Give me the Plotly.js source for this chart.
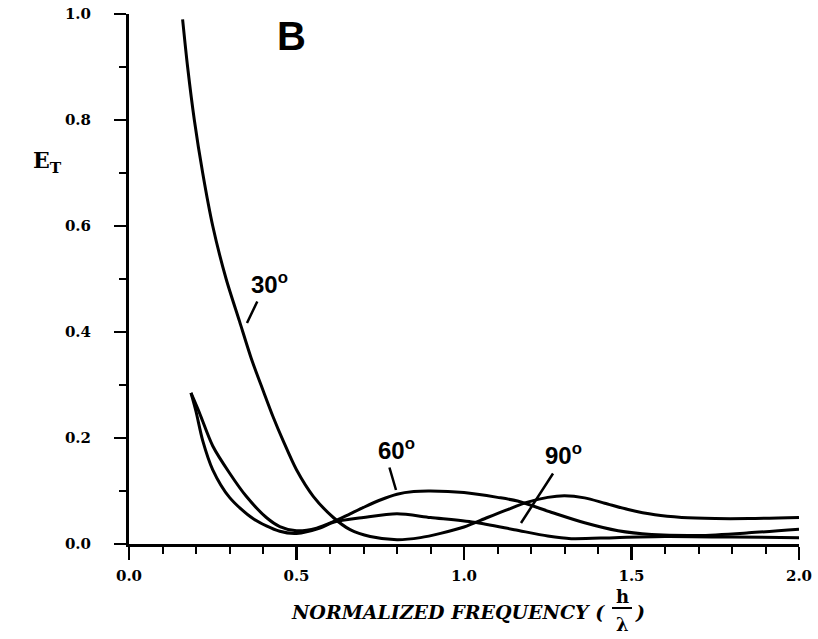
<!DOCTYPE html>
<html>
<head>
<meta charset="utf-8">
<script src="https://cdn.plot.ly/plotly-3.0.1.min.js"></script>
<style>html,body{margin:0;padding:0;background:#fff;}#chart{width:818px;height:639px;}</style>
</head>
<body>
<div id="chart"></div>
<script>
// ---- data ----
const x30 = [0.16, 0.175, 0.195, 0.22, 0.25, 0.29, 0.33, 0.365, 0.40, 0.43, 0.46, 0.50, 0.55, 0.61, 0.66, 0.72, 0.80, 0.87, 0.93, 1.00, 1.07, 1.13, 1.19, 1.25, 1.30, 1.36, 1.42, 1.49, 1.57, 1.65, 1.75, 1.85, 2.00];
const y30 = [0.99, 0.90, 0.80, 0.70, 0.60, 0.50, 0.42, 0.35, 0.29, 0.24, 0.195, 0.14, 0.09, 0.05, 0.027, 0.014, 0.008, 0.012, 0.02, 0.032, 0.05, 0.065, 0.079, 0.088, 0.091, 0.087, 0.077, 0.065, 0.055, 0.05, 0.048, 0.048, 0.05];

const x60 = [0.185, 0.21, 0.25, 0.30, 0.35, 0.41, 0.45, 0.50, 0.56, 0.61, 0.66, 0.70, 0.75, 0.80, 0.85, 0.90, 1.00, 1.10, 1.16, 1.26, 1.36, 1.46, 1.56, 1.70, 1.85, 2.00];
const y60 = [0.285, 0.248, 0.185, 0.134, 0.09, 0.05, 0.033, 0.025, 0.03, 0.042, 0.057, 0.069, 0.083, 0.094, 0.099, 0.10, 0.097, 0.088, 0.081, 0.06, 0.04, 0.025, 0.018, 0.016, 0.021, 0.028];

const x90 = [0.185, 0.20, 0.22, 0.25, 0.30, 0.37, 0.45, 0.50, 0.57, 0.61, 0.70, 0.80, 0.90, 1.03, 1.15, 1.25, 1.32, 1.45, 1.60, 1.80, 2.00];
const y90 = [0.285, 0.25, 0.195, 0.14, 0.088, 0.048, 0.024, 0.02, 0.03, 0.041, 0.05, 0.057, 0.05, 0.041, 0.027, 0.015, 0.01, 0.012, 0.014, 0.013, 0.012];

const curveNames = ["30°", "60°", "90°"];
const xTickVals = [0, 0.5, 1.0, 1.5, 2.0];
const xTickText = ["0.0", "0.5", "1.0", "1.5", "2.0"];
const yTickVals = [0, 0.2, 0.4, 0.6, 0.8, 1.0];
const yTickText = ["0.0", "0.2", "0.4", "0.6", "0.8", "1.0"];

// ---- layout geometry ----
const W = 818, H = 639;
const M = {l: 129, r: 19, t: 14, b: 95};
const PW = W - M.l - M.r, PH = H - M.t - M.b;
const px = v => (v - M.l) / PW;            // page pixel x -> paper
const py = v => (H - M.b - v) / PH;        // page pixel y -> paper

const lineStyle = {color: '#000', width: 3, shape: 'spline', smoothing: 0.8};
const traces = [
  {x: x30, y: y30, name: curveNames[0], mode: 'lines', line: lineStyle},
  {x: x60, y: y60, name: curveNames[1], mode: 'lines', line: lineStyle},
  {x: x90, y: y90, name: curveNames[2], mode: 'lines', line: lineStyle}
];

const b = s => '<b>' + s + '</b>';
const tickFont = {family: 'DejaVu Serif', size: 15, color: '#000', weight: 700};
const labFont = {family: 'Liberation Sans, Arial', size: 24, color: '#000', weight: 700};
const titleFont = {family: 'DejaVu Serif', size: 19, color: '#000', weight: 700, style: 'italic'};
const fracFont = {family: 'DejaVu Serif', size: 18, color: '#000', weight: 700};

function ann(text, x, y, font, xanchor) {
  return {text: b(text), xref: 'paper', yref: 'paper', x: px(x), y: py(y), showarrow: false,
          font: font, xanchor: xanchor || 'center', yanchor: 'middle'};
}
function leader(xFrom, yFrom, xTo, yTo) {
  return {text: '', xref: 'paper', yref: 'paper', x: px(xTo), y: py(yTo),
          axref: 'pixel', ayref: 'pixel', ax: xFrom - xTo, ay: yFrom - yTo,
          showarrow: true, arrowhead: 0, arrowwidth: 2.5, arrowcolor: '#000', standoff: 0, startstandoff: 0};
}

const layout = {
  width: W, height: H,
  margin: M,
  paper_bgcolor: '#fff', plot_bgcolor: '#fff',
  showlegend: false,
  xaxis: {
    range: [0, 2], showgrid: false, zeroline: false,
    showline: true, linecolor: '#000', linewidth: 3,
    ticks: 'outside', ticklen: 13, tickwidth: 2.5, tickcolor: '#000',
    tickvals: xTickVals, ticktext: xTickText.map(b), tickfont: tickFont, ticklabelstandoff: 3,
    minor: {dtick: 0.1, ticks: 'outside', ticklen: 7, tickwidth: 2, tickcolor: '#000'}
  },
  yaxis: {
    range: [0, 1], showgrid: false, zeroline: false,
    showline: true, linecolor: '#000', linewidth: 3,
    ticks: 'outside', ticklen: 12, tickwidth: 2.5, tickcolor: '#000',
    tickvals: yTickVals, ticktext: yTickText.map(b), tickfont: tickFont, ticklabelstandoff: 20,
    minor: {dtick: 0.1, ticks: 'outside', ticklen: 7, tickwidth: 2, tickcolor: '#000'}
  },
  annotations: [
    ann('B', 291, 36, {family: 'Liberation Sans, Arial', size: 40, color: '#000', weight: 700}),
    ann('E<sub>T</sub>', 47, 162, {family: 'DejaVu Serif', size: 22, color: '#000', weight: 700}),
    ann(curveNames[0].replace('°', '<sup>o</sup>'), 269, 283, labFont),
    ann(curveNames[1].replace('°', '<sup>o</sup>'), 396, 449, labFont),
    ann(curveNames[2].replace('°', '<sup>o</sup>'), 563, 454, labFont),
    leader(258, 300, 247, 323),
    leader(389, 466, 396, 490),
    leader(554, 472, 521, 523),
    ann('NORMALIZED FREQUENCY (', 607, 612, titleFont, 'right'),
    ann('h', 622, 596, fracFont),
    ann('λ', 622, 624, fracFont),
    ann(')', 633, 612, titleFont, 'left')
  ],
  shapes: [
    {type: 'line', xref: 'paper', yref: 'paper', x0: px(612), x1: px(632), y0: py(608), y1: py(608),
     line: {color: '#000', width: 2}}
  ]
};

Plotly.newPlot('chart', traces, layout, {staticPlot: true, displayModeBar: false});
</script>
</body>
</html>
